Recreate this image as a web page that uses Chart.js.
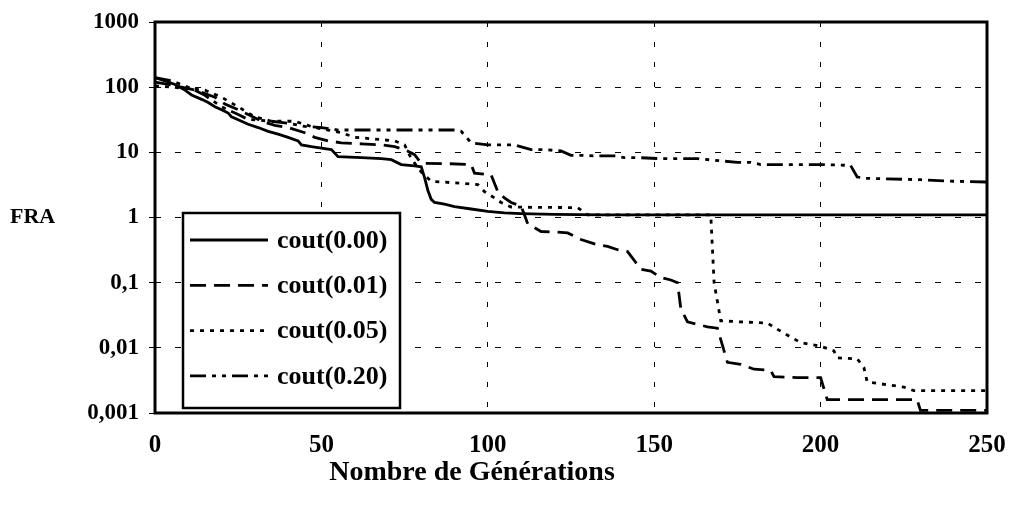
<!DOCTYPE html>
<html>
<head>
<meta charset="utf-8">
<script src="https://cdn.jsdelivr.net/npm/chart.js@4.4.0/dist/chart.umd.min.js"></script>
<style>
  html, body { margin: 0; padding: 0; background: #fff; }
  #wrap { width: 1009px; height: 507px; }
</style>
</head>
<body>
<div id="wrap"><canvas id="chart"></canvas></div>
<script>
// series names
const seriesLabels = ['cout(0.00)', 'cout(0.01)', 'cout(0.05)', 'cout(0.20)'];

// cout(0.00)
const gens00 = [0,3,6,9,11,14,16,18,20,22,23,26,28,31,34,37,40,43,44,47,49,52,53,55,62,68,71,74,78,80,81,82,83,84,87,90,95,100,105,110,120,135,250];
const fra00 = [140,125,110,90,76,65,58,50,45,40,35,30,27,24,21,19,17,15,13,12.2,11.8,11.2,11,8.6,8.3,8,7.7,6.5,6.2,6,4.1,2.6,1.9,1.7,1.6,1.47,1.35,1.24,1.18,1.15,1.12,1.1,1.1];

// cout(0.01)
const gens01 = [0,4,8,12,15,18,21,25,28,32,36,40,45,48,52,56,62,68,72,75,78,80,88,95,96,101,103,105,107,110,111,112,116,120,124,128,133,136,139,142,144,146,149,152,155,157,158,160,166,169,172,176,180,185,186,193,200,202,215,229,230,250];
const fra01 = [120,110,100,90,80,70,55,45,38,30,26,24,20,17,15,14,13.5,13,12.2,11,9.2,6.8,6.7,6.5,4.8,4.5,2.5,2,1.7,1.5,1.1,0.8,0.61,0.6,0.58,0.46,0.38,0.36,0.32,0.3,0.22,0.16,0.15,0.12,0.11,0.1,0.04,0.025,0.021,0.02,0.006,0.0056,0.0047,0.0045,0.0036,0.0035,0.0035,0.0016,0.0016,0.0016,0.0011,0.0011];

// cout(0.05)
const gens05 = [0,5,10,15,20,25,30,35,42,48,52,56,60,66,72,75,77,80,83,90,97,99,102,104,107,115,127,130,167,168,170,176,184,188,194,200,204,205,211,213,214,225,228,250];
const fra05 = [105,100,95,90,70,50,35,30,30,24,22,20,17,16,15,13,8,5,3.6,3.4,3.2,2.5,2,1.7,1.45,1.43,1.42,1.1,1.1,0.1,0.026,0.025,0.024,0.018,0.012,0.0106,0.009,0.007,0.0068,0.005,0.003,0.0025,0.0022,0.0022];

// cout(0.20)
const gens20 = [0,5,10,15,20,25,28,35,40,45,50,55,62,90,92,95,100,108,113,117,122,125,128,133,138,141,145,152,163,175,179,182,194,200,209,211,213,230,240,250];
const fra20 = [140,125,100,75,50,38,32,30,28,25,24,22,22,22,21,14,13,13,11,11,10.5,9,9,8.8,8.8,8.3,8.3,8,8,7,7,6.5,6.5,6.5,6.3,4.2,4,3.8,3.6,3.5];

// axis ticks
const xTicks = [0, 50, 100, 150, 200, 250];
const yTicks = [0.001, 0.01, 0.1, 1, 10, 100, 1000];
const yTickLabels = ['0,001', '0,01', '0,1', '1', '10', '100', '1000'];

const FONT = '"Liberation Serif", "Times New Roman", serif';
const dashes = [[], [16, 8], [4, 6], [16, 6, 4, 6, 4, 6]];

function toPoints(xs, ys) {
  return xs.map((x, i) => ({ x: x, y: ys[i] }));
}

const allSeries = [[gens00, fra00], [gens01, fra01], [gens05, fra05], [gens20, fra20]];

const datasets = allSeries.map((s, i) => ({
  label: seriesLabels[i],
  data: toPoints(s[0], s[1]),
  borderColor: '#000',
  borderWidth: 2.8,
  borderDash: dashes[i],
  pointRadius: 0,
  tension: 0,
  fill: false
}));

// frame, axis titles and the boxed legend
const decorations = {
  id: 'decorations',
  afterDraw(chart) {
    const ctx = chart.ctx;
    const a = chart.chartArea;
    ctx.save();
    ctx.strokeStyle = '#000';
    ctx.lineWidth = 3;
    ctx.setLineDash([]);
    ctx.strokeRect(a.left, a.top, a.right - a.left, a.bottom - a.top);

    ctx.fillStyle = '#000';
    ctx.textBaseline = 'middle';
    // y title, horizontal
    ctx.font = 'bold 22px ' + FONT;
    ctx.textAlign = 'left';
    ctx.fillText('FRA', 10, chart.scales.y.getPixelForValue(1));
    // x title
    ctx.font = 'bold 28px ' + FONT;
    ctx.textAlign = 'center';
    ctx.fillText('Nombre de Générations', 472, 473);

    // legend box
    const bx = a.left + 28, by = 213, bw = 217, bh = 195;
    ctx.fillStyle = '#fff';
    ctx.fillRect(bx, by, bw, bh);
    ctx.lineWidth = 2.5;
    ctx.strokeRect(bx, by, bw, bh);
    ctx.font = 'bold 26px ' + FONT;
    ctx.textAlign = 'left';
    ctx.fillStyle = '#000';
    chart.data.datasets.forEach((ds, i) => {
      const yy = by + 27 + i * 45.3;
      ctx.beginPath();
      ctx.setLineDash(ds.borderDash);
      ctx.lineWidth = 2.8;
      ctx.moveTo(bx + 7, yy);
      ctx.lineTo(bx + 85, yy);
      ctx.stroke();
      ctx.setLineDash([]);
      ctx.fillText(ds.label, bx + 94, yy + 1);
    });
    ctx.restore();
  }
};

new Chart(document.getElementById('chart'), {
  type: 'line',
  data: { datasets: datasets },
  plugins: [decorations],
  options: {
    responsive: true,
    maintainAspectRatio: false,
    animation: false,
    layout: { padding: { top: 22, right: 22, left: 0, bottom: 0 } },
    plugins: {
      legend: { display: false },
      tooltip: { enabled: false }
    },
    scales: {
      x: {
        type: 'linear',
        min: 0,
        max: 250,
        afterBuildTicks: (scale) => { scale.ticks = xTicks.map(v => ({ value: v })); },
        afterFit: (scale) => {
          scale.height = 94;
          scale.paddingLeft = 0;
          scale.paddingRight = 0;
        },
        ticks: {
          color: '#000',
          padding: 18,
          maxRotation: 0,
          font: { family: FONT, size: 25, weight: 'bold' }
        },
        grid: { color: '#000', lineWidth: 1, drawTicks: false },
        border: { display: false, dash: [5, 15] }
      },
      y: {
        type: 'logarithmic',
        min: 0.001,
        max: 1000,
        afterBuildTicks: (scale) => { scale.ticks = yTicks.map(v => ({ value: v })); },
        afterFit: (scale) => {
          scale.width = 155;
          scale.paddingTop = 0;
          scale.paddingBottom = 0;
        },
        ticks: {
          color: '#000',
          padding: 10,
          font: { family: FONT, size: 23, weight: 'bold' },
          callback: (value) => {
            const i = yTicks.indexOf(value);
            return i >= 0 ? yTickLabels[i] : '';
          }
        },
        grid: { color: '#000', lineWidth: 1, tickLength: 6 },
        border: { display: false, dash: [6, 14] }
      }
    }
  }
});
</script>
</body>
</html>
